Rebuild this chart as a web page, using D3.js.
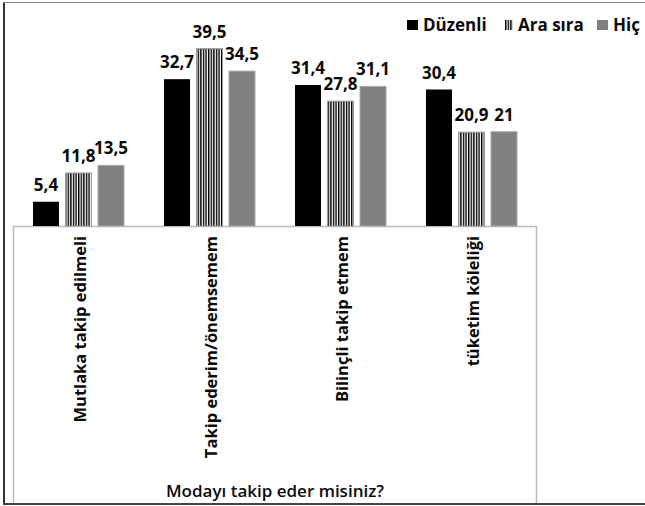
<!DOCTYPE html>
<html>
    <head>
        <meta charset="UTF-8">
        <title>Modayı takip eder misiniz?</title>
        <script src="https://cdn.jsdelivr.net/npm/d3@7" type="text/javascript"></script>
        <style>
            body { margin: 0; background: #fff; }
            text { font-family: "Open Sans", sans-serif; font-weight: bold; fill: #0a0a0a; }
        </style>
    </head>
    <body>
        <svg id="svg"></svg>

        <script>

            var WIDTH = 645;
            var HEIGHT = 506;

            // Data
            var categories = ["Mutlaka takip edilmeli", "Takip ederim/önemsemem", "Bilinçli takip etmem", "tüketim köleliği"];
            var series = ["Düzenli", "Ara sıra", "Hiç"];
            var duzenli = [5.4, 32.7, 31.4, 30.4];
            var araSira = [11.8, 39.5, 27.8, 20.9];
            var hic = [13.5, 34.5, 31.1, 21];
            var valueLabels = [["5,4", "32,7", "31,4", "30,4"],
                               ["11,8", "39,5", "27,8", "20,9"],
                               ["13,5", "34,5", "31,1", "21"]];
            var axisTitle = "Modayı takip eder misiniz?";

            var values = [duzenli, araSira, hic];

            var svg = d3.select('#svg')
                        .attr("width", WIDTH)
                        .attr("height", HEIGHT);

            // Striped fill for "Ara sıra"
            var pat = svg.append('defs').append('pattern')
                         .attr('id', 'stripes')
                         .attr('patternUnits', 'userSpaceOnUse')
                         .attr('width', 2.6)
                         .attr('height', 10);
            pat.append('rect').attr('width', 2.6).attr('height', 10).attr('fill', '#fff');
            pat.append('rect').attr('width', 1.4).attr('height', 10).attr('fill', '#000');

            var fills = ['#000', 'url(#stripes)', '#808080'];
            var strokes = ['none', '#999', '#aaa'];

            // Outer frame
            svg.append('line').attr('x1', 4).attr('x2', 4).attr('y1', 2).attr('y2', 504)
               .attr('stroke', '#333').attr('stroke-width', 2);
            svg.append('line').attr('x1', 3).attr('x2', 645).attr('y1', 2.5).attr('y2', 2.5)
               .attr('stroke', '#888').attr('stroke-width', 1);
            svg.append('line').attr('x1', 3).attr('x2', 645).attr('y1', 504).attr('y2', 504)
               .attr('stroke', '#444').attr('stroke-width', 2);

            // Scales
            var BASE = 226;
            var x0 = d3.scaleBand()
                       .domain(categories)
                       .range([13, 537]);
            var x1 = d3.scaleBand()
                       .domain(series)
                       .range([20, 111])
                       .paddingInner(0.2);
            var y = d3.scaleLinear()
                      .domain([0, 40])
                      .range([BASE, BASE - 40 * 4.49]);

            // Category box (axis line + frame below)
            svg.append('path')
               .attr('d', 'M13.5,503 V' + (BASE + 0.5) + ' H536.5 V503')
               .attr('fill', 'none')
               .attr('stroke', '#bbb')
               .attr('stroke-width', 1.5);

            // Bars
            series.forEach(function(s, si){
                var g = svg.append('g');
                g.selectAll('rect')
                 .data(values[si])
                 .enter()
                 .append('rect')
                 .attr('x', function(d, i){ return x0(categories[i]) + x1(s); })
                 .attr('y', function(d){ return y(d); })
                 .attr('width', x1.bandwidth())
                 .attr('height', function(d){ return BASE - y(d); })
                 .attr('fill', fills[si])
                 .attr('stroke', strokes[si])
                 .attr('stroke-width', 1);
                g.selectAll('text')
                 .data(values[si])
                 .enter()
                 .append('text')
                 .attr('x', function(d, i){ return x0(categories[i]) + x1(s) + x1.bandwidth() / 2; })
                 .attr('y', function(d){ return y(d) - 11; })
                 .attr('text-anchor', 'middle')
                 .attr('font-size', '17px')
                 .text(function(d, i){ return valueLabels[si][i]; });
            });

            // Category labels (rotated)
            svg.selectAll('.cat')
               .data(categories)
               .enter()
               .append('text')
               .attr('class', 'cat')
               .attr('transform', function(d){
                   return 'translate(' + (x0(d) + x0.bandwidth() / 2 + 7) + ',' + (BASE + 10) + ') rotate(-90)';
               })
               .attr('text-anchor', 'end')
               .attr('font-size', '16.5px')
               .text(function(d){ return d; });

            // Axis title
            svg.append('text')
               .attr('x', 275)
               .attr('y', 497)
               .attr('text-anchor', 'middle')
               .attr('font-size', '17px')
               .style('font-weight', 600)
               .text(axisTitle);

            // Legend
            var legendX = [407, 505, 597];
            var legend = svg.selectAll('.legend')
                            .data(series)
                            .enter()
                            .append('g')
                            .attr('class', 'legend')
                            .attr('transform', function(d, i){ return 'translate(' + legendX[i] + ',20)'; });
            legend.append('rect')
                  .attr('width', function(d, i){ return i == 1 ? 8 : 11; })
                  .attr('height', 10)
                  .attr('fill', function(d, i){ return fills[i]; });
            legend.append('text')
                  .attr('x', function(d, i){ return i == 1 ? 13 : 16; })
                  .attr('y', 11)
                  .attr('font-size', '17px')
                  .text(function(d){ return d; });

        </script>
    </body>
</html>
